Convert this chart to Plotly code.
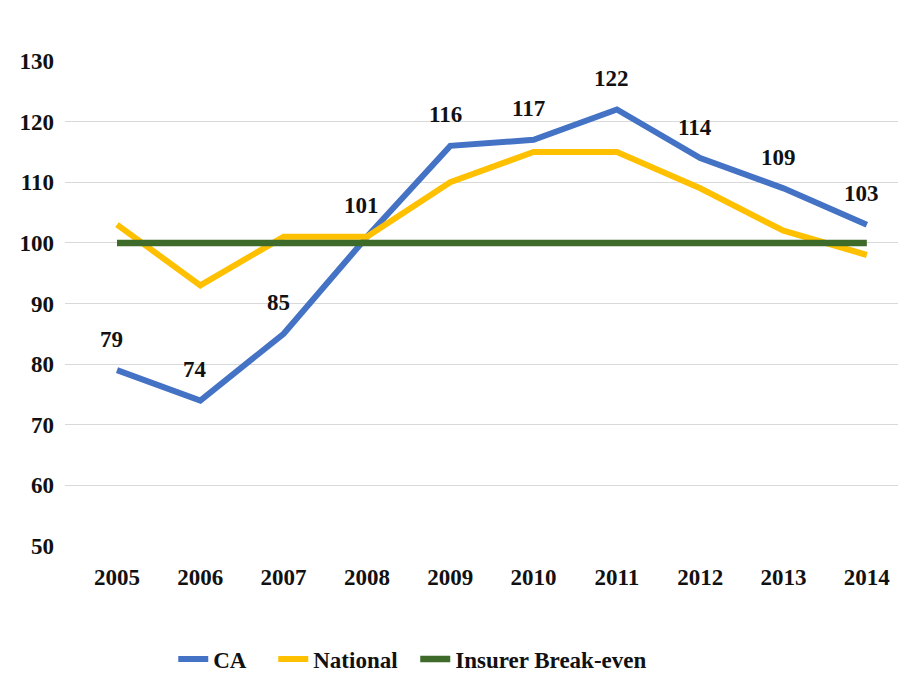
import plotly.graph_objects as go

years = ["2005", "2006", "2007", "2008", "2009", "2010", "2011", "2012", "2013", "2014"]
ca = [79, 74, 85, 101, 116, 117, 122, 114, 109, 103]
national = [103, 93, 101, 101, 110, 115, 115, 109, 102, 98]
breakeven = [100, 100, 100, 100, 100, 100, 100, 100, 100, 100]
y_ticks = [50, 60, 70, 80, 90, 100, 110, 120, 130]

font_family = "Liberation Serif, Times New Roman, serif"
FS = 23

fig = go.Figure()
fig.add_trace(go.Scatter(
    x=years, y=ca, name="CA", mode="lines",
    line=dict(color="#4472C4", width=6), legendwidth=55,
))
fig.add_trace(go.Scatter(
    x=years, y=national, name="National", mode="lines",
    line=dict(color="#FFC000", width=6), legendwidth=97,
))
fig.add_trace(go.Scatter(
    x=years, y=breakeven, name="Insurer Break-even", mode="lines",
    line=dict(color="#3E6B2A", width=6.5),
))

for i, v in enumerate(ca):
    fig.add_annotation(x=i, y=v, xref="x", yref="y", text=str(v), showarrow=False,
                       yshift=31, xshift=-5,
                       font=dict(family=font_family, size=FS, color="#111111", weight="bold"))

fig.update_layout(
    width=898, height=668,
    margin=dict(l=57, r=0, t=53, b=130, autoexpand=False),
    plot_bgcolor="white", paper_bgcolor="white",
    font=dict(family=font_family, size=FS, color="#111111"),
    showlegend=True,
    legend=dict(orientation="h", x=0.4135, xanchor="center", y=-0.233, yanchor="middle",
                font=dict(family=font_family, size=FS, color="#111111", weight="bold")),
    xaxis=dict(type="category", range=[-0.624, 9.47], showgrid=False,
               showline=False, ticks="", ticklabelstandoff=15,
               tickfont=dict(family=font_family, size=FS, weight="bold")),
    yaxis=dict(range=[50, 130], tickvals=y_ticks, showgrid=True,
               gridcolor="#D9D9D9", gridwidth=1.2, zeroline=False, showline=False,
               ticks="", ticklabelstandoff=10,
               tickfont=dict(family=font_family, size=FS, weight="bold")),
)

fig.write_html("out.html")
